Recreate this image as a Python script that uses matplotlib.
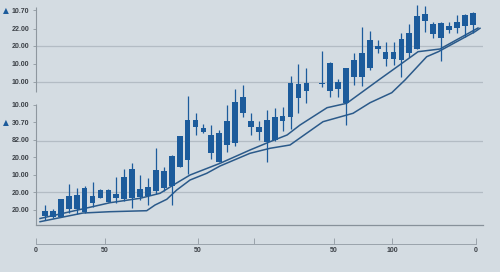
import matplotlib
matplotlib.use("Agg")
import matplotlib.pyplot as plt
import numpy as np

# candle index (34 has no candle in the picture)
idx = [0, 1, 2, 3, 4, 5, 6, 7, 8, 9, 10, 11, 12, 13, 14, 15, 16, 17, 18, 19,
       20, 21, 22, 23, 24, 25, 26, 27, 28, 29, 30, 31, 32, 33, 35, 36, 37, 38,
       39, 40, 41, 42, 43, 44, 45, 46, 47, 48, 49, 50, 51, 52, 53, 54]
opens = [14.7, 14.0, 14.2, 18.2, 18.0, 16.7, 21.2, 23.5, 21.7, 23.7, 23.0, 23.3,
         24.2, 24.7, 27.0, 28.7, 29.5, 39.2, 42.5, 59.2, 56.4, 55.2, 56.0, 50.2,
         51.0, 65.8, 59.2, 56.7, 51.5, 52.5, 62.2, 63.8, 73.3, 77.0, 80.6, 77.2,
         77.8, 70.8, 83.8, 84.2, 88.7, 98.0, 96.7, 96.7, 92.5, 95.8, 98.0, 115.5,
         110.5, 111.2, 109.5, 108.3, 109.7, 110.0]
closes = [17.2, 17.0, 23.0, 24.5, 25.2, 28.5, 24.5, 27.5, 27.5, 25.5, 34.0, 38.0,
          28.0, 29.2, 37.5, 37.2, 44.5, 54.5, 62.5, 62.5, 58.5, 45.9, 41.7, 62.2,
          71.5, 74.2, 62.2, 59.2, 62.5, 63.8, 64.5, 81.2, 80.5, 80.8, 81.0, 91.2,
          81.5, 88.3, 92.5, 95.8, 102.5, 99.5, 92.8, 92.8, 102.8, 105.8, 114.5,
          112.2, 105.5, 103.3, 107.5, 111.7, 115.0, 116.2]
highs = [20.0, 18.0, 23.0, 30.5, 28.5, 29.5, 31.5, 27.8, 28.0, 34.0, 38.0, 40.8,
         35.0, 33.5, 48.5, 39.0, 45.0, 54.5, 74.5, 66.0, 60.5, 60.0, 57.5, 70.0,
         78.0, 80.0, 66.0, 62.2, 67.5, 68.5, 69.0, 84.5, 90.5, 88.3, 97.0, 91.5,
         83.0, 88.5, 95.8, 108.8, 107.2, 102.5, 101.7, 101.3, 106.2, 110.5, 119.8,
         119.7, 111.7, 111.5, 111.7, 115.0, 115.5, 116.5]
lows = [12.5, 13.5, 14.2, 16.0, 15.5, 16.0, 19.2, 23.3, 21.5, 21.0, 22.0, 18.3,
        22.5, 20.0, 25.5, 27.0, 20.0, 39.2, 35.5, 55.0, 56.0, 42.8, 41.5, 46.5,
        49.5, 64.0, 55.0, 52.5, 41.7, 52.0, 57.0, 57.8, 66.0, 71.2, 79.2, 74.2,
        74.2, 60.0, 79.8, 79.5, 87.5, 95.8, 89.5, 90.0, 84.2, 94.2, 97.8, 106.7,
        103.7, 92.0, 105.8, 106.2, 104.2, 105.8]

# two moving average lines
fast_x = [-0.63, 6.94, 8.21, 11.99, 14.52, 16.2, 18.31, 22.1, 25.88, 28.41,
          30.56, 32.2, 35.61, 38.09, 42.3, 44.19, 47.1, 49.87, 54.67]
fast_y = [13.25, 20.0, 21.15, 23.35, 25.85, 30.0, 35.0, 40.85, 47.5, 51.65,
          55.0, 60.0, 68.65, 70.85, 83.0, 88.35, 96.65, 98.0, 108.5]
slow_x = [-0.63, 4.8, 8.21, 12.84, 13.89, 15.37, 16.63, 18.31, 20.42, 22.1,
          25.88, 28.41, 30.93, 35.1, 38.89, 41.04, 43.78, 45.45, 48.19, 49.66,
          54.29, 54.92]
slow_y = [11.65, 16.0, 16.65, 17.15, 20.0, 22.85, 27.5, 32.5, 35.85, 39.5,
          45.85, 48.35, 50.0, 61.65, 65.85, 71.15, 76.15, 82.5, 94.15, 96.65,
          106.65, 108.35]

# axis labels as printed
ytick_pos = [117.35, 108.25, 99.5, 90.75, 81.65, 70.25, 61.35, 52.5, 43.85,
             35.25, 26.35, 17.5]
ytick_lab = ["10.70", "22.00", "20.00", "10.00", "10.00", "10.00", "30.70",
             "82.00", "20.00", "10.00", "20.00", "20.00"]
marker_rows = [117.35, 61.35]
grid_rows = [99.5, 81.5, 52.0, 26.5]
xtick_pos = [-1.14, 7.58, 19.32, 26.39, 36.49, 43.81, 54.42]
xtick_lab = ["0", "50", "50", "", "50", "100", "0"]

bg = "#d4dce2"
blue = "#1c5b9b"
line_c = "#2b5a8a"
txt = "#3b4046"

plt.rcParams["font.family"] = ["Liberation Sans", "DejaVu Sans"]

fig = plt.figure(figsize=(5, 2.72), dpi=100, facecolor=bg)
ax = fig.add_axes([36 / 500, 1 - 225 / 272, 447 / 500, 220 / 272])
ax.set_facecolor(bg)
ax.set_xlim(-1.136, 55.3)
ax.set_ylim(10, 120)

for g in grid_rows:
    ax.axhline(g, color="#b3bcc4", lw=0.9, zorder=1)
ax.axhline(10, color="#87919a", lw=0.9, zorder=1, clip_on=False)

ax.plot(slow_x, slow_y, color=line_c, lw=1.1, zorder=2)
ax.plot(fast_x, fast_y, color=line_c, lw=1.1, zorder=2)

o = np.array(opens)
c = np.array(closes)
ax.vlines(idx, lows, highs, color=blue, lw=0.9, zorder=3)
body_h = np.maximum(np.abs(c - o), 0.4)
ax.bar(idx, body_h, bottom=np.minimum(o, c), width=0.72, color=blue,
       zorder=4, linewidth=0)

# left axis drawn in two pieces
for sp in ["left", "top", "right"]:
    ax.spines[sp].set_visible(False)
x0 = ax.get_xlim()[0]
ax.vlines([x0, x0], [76.6, 10], [118.8, 70.4], color="#8e979f", lw=0.8,
          clip_on=False, zorder=5)

ax.set_yticks(ytick_pos)
ax.set_yticklabels(ytick_lab)
ax.tick_params(axis="y", length=2, width=0.6, color="#8e979f", pad=3,
               labelsize=5, labelcolor=txt)
for lab in ax.get_yticklabels():
    lab.set_fontweight("bold")

ax.spines["bottom"].set_position(("outward", 13.7))
ax.spines["bottom"].set_linestyle((0, (1, 1)))
ax.spines["bottom"].set_color("#9aa3ab")
ax.spines["bottom"].set_linewidth(0.7)
ax.spines["bottom"].set_bounds(-1.14, 54.42)
ax.set_xticks(xtick_pos)
ax.set_xticklabels(xtick_lab)
ax.tick_params(axis="x", direction="in", length=4.3, width=0.7,
               color="#9aa3ab", pad=2, labelsize=5, labelcolor=txt)
for lab in ax.get_xticklabels():
    lab.set_fontweight("bold")

for r in marker_rows:
    ax.text(-0.068, r, "\u25b2", transform=ax.get_yaxis_transform(),
            ha="center", va="center", color=blue, fontsize=5.5,
            family="DejaVu Sans")

fig.savefig("out.png", dpi=100, facecolor=bg)
